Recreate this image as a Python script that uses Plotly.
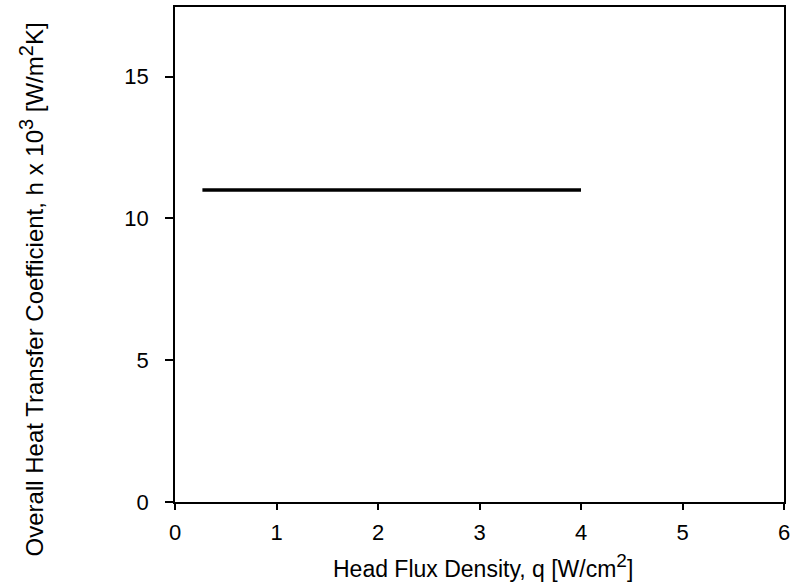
import plotly.graph_objects as go

q_values = [0.27, 4.0]
h_values = [11.0, 11.0]
x_ticks = [0, 1, 2, 3, 4, 5, 6]
y_ticks = [0, 5, 10, 15]

FONT = "Liberation Sans, Arial, sans-serif"

fig = go.Figure()
fig.add_trace(go.Scatter(x=q_values, y=h_values, mode="lines",
                         line=dict(color="black", width=3.5),
                         showlegend=False, hoverinfo="skip"))

fig.update_layout(
    width=795, height=587,
    margin=dict(l=175, r=10, t=5, b=85),
    paper_bgcolor="white", plot_bgcolor="white",
    font=dict(family=FONT, size=22, color="black"),
    xaxis=dict(range=[0, 6], tickvals=x_ticks, ticks="outside", ticklen=6,
               tickwidth=1.5, tickcolor="black", showline=True, linecolor="black",
               linewidth=2, mirror=True, showgrid=False, zeroline=False,
               tickfont=dict(size=22), ticklabelstandoff=4),
    yaxis=dict(range=[0, 17.45], tickvals=y_ticks, ticks="outside", ticklen=8,
               tickwidth=1.5, tickcolor="black", showline=True, linecolor="black",
               linewidth=1.5, mirror=True, showgrid=False, zeroline=False,
               tickfont=dict(size=22), ticklabelstandoff=12),
    annotations=[
        dict(text="Head Flux Density, q [W/cm<sup><span style='font-size:19px'>2</span></sup>]",
             xref="paper", yref="paper",
             x=0.505, y=-0.13, xanchor="center", yanchor="middle", showarrow=False,
             font=dict(size=23)),
        dict(text="Overall Heat Transfer Coefficient, h x 10<sup><span style='font-size:20px'>3</span></sup> [W/m<sup><span style='font-size:20px'>2</span></sup>K]",
             xref="paper", yref="paper", x=-0.236, y=0.43, xanchor="center",
             yanchor="middle", textangle=-90, showarrow=False, font=dict(size=24)),
    ],
)

fig.write_html("out.html")
